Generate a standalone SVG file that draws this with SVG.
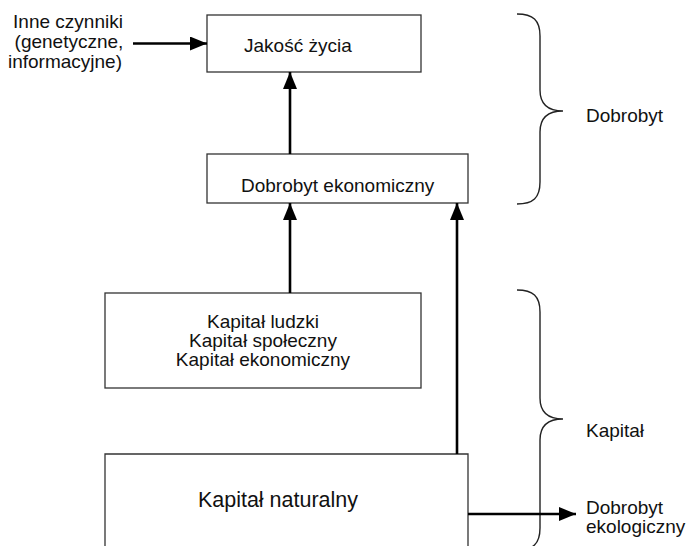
<svg xmlns="http://www.w3.org/2000/svg" width="689" height="546" viewBox="0 0 689 546">
<defs>
<style>
.box{fill:#fff;stroke:#333;stroke-width:1.3}
.t{font-family:"Liberation Sans",Arial,sans-serif;font-size:19px;fill:#111}
.m{text-anchor:middle}
.c{fill:none;stroke:#000;stroke-width:2.6}
.br{fill:none;stroke:#222;stroke-width:1.4}
</style>
<marker id="ah" markerUnits="userSpaceOnUse" markerWidth="18" markerHeight="14" refX="17" refY="7" orient="auto">
<path d="M0,0 L17,7 L0,14 Z" fill="#000"/>
</marker>
</defs>
<rect width="689" height="546" fill="#fff"/>
<g id="jakosc">
<rect class="box" x="207" y="15" width="214" height="57"/>
<text class="t" x="244" y="52">Jakość życia</text>
</g>
<g id="dobrobyt-ekonomiczny">
<rect class="box" x="207" y="154" width="261" height="49"/>
<text class="t" x="241" y="192">Dobrobyt ekonomiczny</text>
</g>
<g id="kapital-ludzki">
<rect class="box" x="105" y="293" width="316" height="95"/>
<text class="t m" x="263" y="328">Kapitał ludzki</text>
<text class="t m" x="263" y="347">Kapitał społeczny</text>
<text class="t m" x="263" y="366">Kapitał ekonomiczny</text>
</g>
<g id="kapital-naturalny">
<path class="box" d="M105,560 V454 H468 V560"/>
<text class="t m" x="278" y="507" style="font-size:21.5px">Kapitał naturalny</text>
</g>
<g id="inne-czynniki">
<text class="t m" x="68" y="28">Inne czynniki</text>
<text class="t m" x="69" y="48">(genetyczne,</text>
<text class="t m" x="65" y="68">informacyjne)</text>
</g>
<g id="dobrobyt-ekologiczny">
<text class="t" x="586" y="514">Dobrobyt</text>
<text class="t" x="586" y="533">ekologiczny</text>
</g>
<g id="brace-dobrobyt">
<path class="br" d="M517,14 C533,14 540,20 540,36 L540,90 C540,104 548,111 563,111 C548,111 540,118 540,132 L540,182 C540,198 533,204 517,204"/>
<text class="t" x="586" y="122">Dobrobyt</text>
</g>
<g id="brace-kapital">
<path class="br" d="M517,290 C533,290 540,296 540,312 L540,398 C540,412 548,419 563,419 C548,419 540,426 540,440 L540,528 C540,544 533,550 517,550"/>
<text class="t" x="586" y="437">Kapitał</text>
</g>
<g id="connectors">
<line class="c" x1="133" y1="43.5" x2="207" y2="43.5" marker-end="url(#ah)"/>
<line class="c" x1="290" y1="154" x2="290" y2="72" marker-end="url(#ah)"/>
<line class="c" x1="290" y1="293" x2="290" y2="203" marker-end="url(#ah)"/>
<line class="c" x1="457" y1="454" x2="457" y2="203" marker-end="url(#ah)"/>
<line class="c" x1="468" y1="514" x2="576" y2="514" marker-end="url(#ah)"/>
</g>
</svg>
